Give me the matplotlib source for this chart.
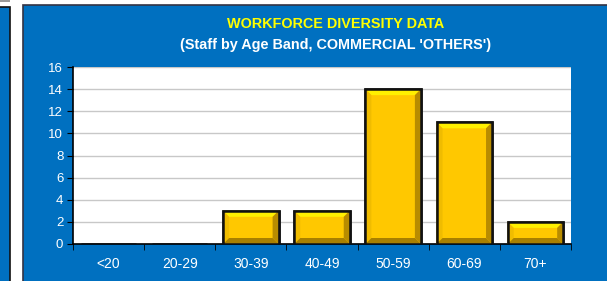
import matplotlib
matplotlib.use("Agg")
import matplotlib.pyplot as plt
from matplotlib.patches import Rectangle, Polygon
import numpy as np

plt.rcParams['font.family'] = ['Liberation Sans', 'DejaVu Sans']

categories = ["<20", "20-29", "30-39", "40-49", "50-59", "60-69", "70+"]
values = [0, 0, 3, 3, 14, 11, 2]
yticks = [0, 2, 4, 6, 8, 10, 12, 14, 16]
title1 = "WORKFORCE DIVERSITY DATA"
title2 = "(Staff by Age Band, COMMERCIAL 'OTHERS')"

W, H = 607, 281
fig = plt.figure(figsize=(W / 100, H / 100), dpi=100)
fig.patch.set_facecolor("white")

blue = "#0070C0"
# left partial panel
fig.add_artist(Rectangle((-0.01, -0.01), 10 / W + 0.01, (H - 7) / H + 0.01, transform=fig.transFigure,
                         facecolor=blue, edgecolor="#111111", linewidth=1.2, zorder=-2))
fig.add_artist(Rectangle((0, (H - 2) / H), 10 / W, 2 / H, transform=fig.transFigure,
                         facecolor="#9a9a9a", edgecolor="none", zorder=-2))
# main panel
fig.add_artist(Rectangle((23 / W, -0.01), 1.0, (H - 5) / H + 0.01, transform=fig.transFigure,
                         facecolor=blue, edgecolor="#333344", linewidth=1.2, zorder=-2))

ax = fig.add_axes([73 / W, 37 / H, (571 - 73) / W, (244 - 67) / H])
ax.set_zorder(1)
ax.set_facecolor("white")
x = np.arange(len(categories))
bw = 0.78
bars = ax.bar(x, values, width=bw, color="#FFC800", edgecolor="#111111", linewidth=1.8, zorder=3)

ax.set_xlim(-0.5, len(categories) - 0.5)
ax.set_ylim(0, 16)
ax.set_yticks(yticks)
ax.set_yticklabels([str(t) for t in yticks])
ax.set_xticks(x)
ax.set_xticklabels(categories)
ax.tick_params(axis="x", length=0, colors="white", labelsize=10, pad=9)
ax.set_xticks(np.arange(len(categories) + 1) - 0.5, minor=True)
ax.tick_params(axis="x", which="minor", length=4, color="black", direction="out")
ax.tick_params(axis="y", length=4, color="black", labelcolor="white", labelsize=9.5, pad=3)
ax.yaxis.grid(True, color="#c8c8c8", linewidth=1.0, zorder=0)
ax.set_axisbelow(True)
for s in ["top", "right"]:
    ax.spines[s].set_visible(False)
ax.spines["left"].set_color("black")
ax.spines["bottom"].set_color("black")
ax.spines["left"].set_linewidth(1.2)
ax.spines["bottom"].set_linewidth(1.2)

# bevel effect, derived from bar geometry in pixel space
fig.canvas.draw()
inv = ax.transData.inverted()
for b in bars:
    if b.get_height() <= 0:
        continue
    (x0, y0), (x1, y1) = ax.transData.transform([(b.get_x(), 0), (b.get_x() + b.get_width(), b.get_height())])
    d = 6
    if (y1 - y0) < 2 * d + 2:
        d = max(2, (y1 - y0) / 3)
    pts = {
        "top": [(x0, y1), (x1, y1), (x1 - d, y1 - d), (x0 + d, y1 - d)],
        "left": [(x0, y0), (x0, y1), (x0 + d, y1 - d), (x0 + d, y0 + d)],
        "right": [(x1, y0), (x1, y1), (x1 - d, y1 - d), (x1 - d, y0 + d)],
        "bottom": [(x0, y0), (x1, y0), (x1 - d, y0 + d), (x0 + d, y0 + d)],
    }
    cols = {"top": "#FFF000", "left": "#F0BC00", "right": "#B88C00", "bottom": "#A88000"}
    for k, p in pts.items():
        ax.add_patch(Polygon(inv.transform(p), closed=True, facecolor=cols[k], edgecolor="none", zorder=3.5))
    ax.add_patch(Rectangle((b.get_x(), 0), b.get_width(), b.get_height(), facecolor="none",
                           edgecolor="#111111", linewidth=1.8, zorder=4))

cx = 336 / W
fig.text(cx, (H - 24) / H, title1, color="#FFFF00", fontsize=10.4, fontweight="bold", ha="center", va="center")
fig.text(cx, (H - 45) / H, title2, color="white", fontsize=10.4, fontweight="bold", ha="center", va="center")

fig.savefig("out.png", dpi=100, facecolor=fig.get_facecolor())
